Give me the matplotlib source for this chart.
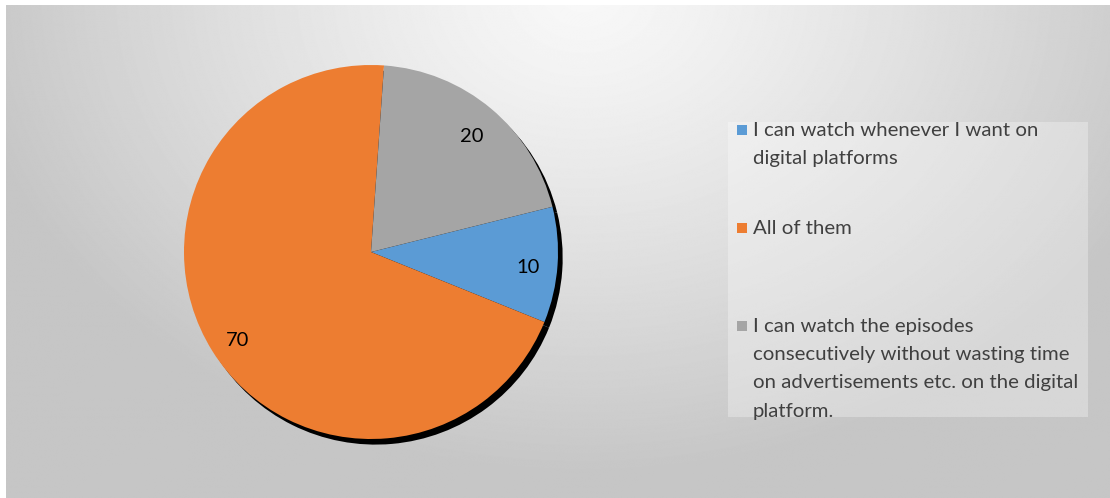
import numpy as np
import matplotlib
matplotlib.use("Agg")
import matplotlib.pyplot as plt
from matplotlib.patches import Rectangle
from matplotlib.transforms import offset_copy

# survey answers: why viewers prefer digital platforms
categories = [
    "I can watch whenever I want on\ndigital platforms",
    "All of them",
    "I can watch the episodes\nconsecutively without wasting time\non advertisements etc. on the digital\nplatform.",
]
values = [10, 70, 20]
colors = ["#5B9BD5", "#ED7D31", "#A5A5A5"]

W, H = 1110, 498
fig = plt.figure(figsize=(W / 100, H / 100), dpi=100, facecolor="white")

# chart area background: soft radial gradient, bright at the top centre
bg = fig.add_axes([6 / W, 0, 1 - 6 / W, 1 - 5 / H])
yy, xx = np.mgrid[0:H, 0:W]
d = np.sqrt(((xx - 580) / 620.0) ** 2 + ((yy + 10) / 480.0) ** 2)
shade = 248 - 50 * np.clip(d, 0, 1) ** 1.2
bg.imshow(shade, cmap="gray", vmin=0, vmax=255, aspect="auto", interpolation="bilinear")
bg.axis("off")

# pie axes
r_px = 187
cx, cy = 371, H - 252
half = 1.1 * r_px
ax = fig.add_axes([(cx - half) / W, (cy - half) / H, 2 * half / W, 2 * half / H])
ax.axis("off")

# hard black drop shadow behind the pie
ax.pie(values, colors=["black"] * len(values), startangle=14, counterclock=False,
       center=(0.025, -0.03), radius=1, wedgeprops=dict(linewidth=0))

total = sum(values)
wedges, texts, autotexts = ax.pie(
    values, colors=colors, startangle=14, counterclock=False, radius=1,
    autopct=lambda p: f"{p * total / 100:.0f}", pctdistance=0.84,
    wedgeprops=dict(linewidth=0),
    textprops=dict(fontsize=14.5, color="black", family="Lato"))
ax.set_xlim(-1.1, 1.1)
ax.set_ylim(-1.1, 1.1)
ax.set_aspect("equal")
# nudge value labels down a little
for t in autotexts:
    t.set_transform(offset_copy(ax.transData, fig=fig, x=0, y=-5, units="dots"))

# legend panel
fig.patches.append(Rectangle((728 / W, 1 - 417 / H), 360 / W, 295 / H,
                             transform=fig.transFigure, facecolor="white",
                             alpha=0.3, edgecolor="none"))
line_centres = [130, 228, 326]
for lbl, col, ty in zip(categories, colors, line_centres):
    fig.patches.append(Rectangle((737 / W, 1 - (ty + 5) / H), 10 / W, 10 / H,
                                 transform=fig.transFigure, facecolor=col,
                                 edgecolor="none"))
    fig.text(753 / W, 1 - (ty - 8) / H, lbl, ha="left", va="top", fontsize=14.7,
             family="Lato", color="#404040", linespacing=1.8)

fig.savefig("out.png", dpi=100)
